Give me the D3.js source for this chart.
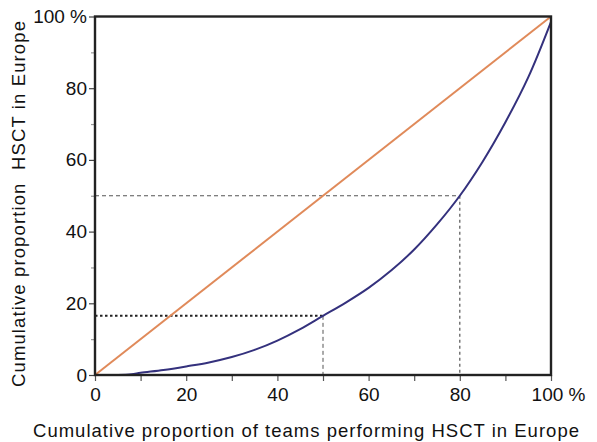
<!DOCTYPE html>
<html>
<head>
<meta charset="utf-8">
<script src="https://cdn.jsdelivr.net/npm/d3@7"></script>
<style>
  html, body { margin: 0; padding: 0; background: #fff; }
  text { font-family: "Liberation Sans", Arial, Helvetica, sans-serif; fill: #111; }
</style>
</head>
<body>
<svg id="chart" width="597" height="442"></svg>
<script>
// Cumulative share of teams (x, %) versus cumulative share of HSCT (y, %)
const teamShare = [0, 5, 8, 10, 15, 20, 25, 30, 35, 40, 45, 50, 55, 60, 65, 70, 75, 80, 85, 90, 95, 100];
const hsctShare = [0, 0, 0.2, 0.6, 1.4, 2.4, 3.5, 5.0, 7.0, 9.6, 12.8, 16.5, 20.2, 24.3, 29.2, 35.0, 42.0, 50.0, 59.5, 70.5, 83.0, 98.5];
// Line of equality
const equalityX = [0, 100];
const equalityY = [0, 100];
// Reference readings
const refLow = { x: 50, y: 16.5 };
const refMid = { x: 80, y: 50 };

const xTicks = [0, 20, 40, 60, 80, 100];
const yTicks = [0, 20, 40, 60, 80, 100];
const minorTicks = [0, 10, 20, 30, 40, 50, 60, 70, 80, 90, 100];
const tickLabel = v => v === 100 ? "100 %" : String(v);

const xTitle = "Cumulative proportion of teams performing HSCT in Europe";
const yTitle = "Cumulative proportion\u00a0\u00a0HSCT in Europe";

const svg = d3.select("#chart");
const plotL = 95, plotR = 551, plotT = 16.5, plotB = 375;

const x = d3.scaleLinear().domain([0, 100]).range([plotL, plotR]);
const y = d3.scaleLinear().domain([0, 100]).range([plotB, plotT]);

// Guide lines
const g = svg.append("g");
g.append("line")
  .attr("x1", x(0)).attr("x2", x(refMid.x))
  .attr("y1", y(refMid.y)).attr("y2", y(refMid.y))
  .attr("stroke", "#555").attr("stroke-width", 1).attr("stroke-dasharray", "4,3");
g.append("line")
  .attr("x1", x(refMid.x)).attr("x2", x(refMid.x))
  .attr("y1", y(refMid.y)).attr("y2", y(0))
  .attr("stroke", "#555").attr("stroke-width", 1.2).attr("stroke-dasharray", "3,3");
g.append("line")
  .attr("x1", x(0)).attr("x2", x(refLow.x))
  .attr("y1", y(refLow.y)).attr("y2", y(refLow.y))
  .attr("stroke", "#222").attr("stroke-width", 2).attr("stroke-dasharray", "2.5,2.5");
g.append("line")
  .attr("x1", x(refLow.x)).attr("x2", x(refLow.x))
  .attr("y1", y(refLow.y)).attr("y2", y(0))
  .attr("stroke", "#555").attr("stroke-width", 1).attr("stroke-dasharray", "4,3");

// Equality line
const eq = equalityX.map((v, i) => [v, equalityY[i]]);
svg.append("path")
  .datum(eq)
  .attr("d", d3.line().x(d => x(d[0])).y(d => y(d[1])))
  .attr("fill", "none").attr("stroke", "#e08a5a").attr("stroke-width", 2);

// Concentration curve
const curve = teamShare.map((v, i) => [v, hsctShare[i]]);
svg.append("path")
  .datum(curve)
  .attr("d", d3.line().curve(d3.curveCatmullRom.alpha(0.5)).x(d => x(d[0])).y(d => y(d[1])))
  .attr("fill", "none").attr("stroke", "#34317d").attr("stroke-width", 2);

// Axes
const yAxisMinor = svg.append("g")
  .attr("transform", `translate(${plotL},0)`)
  .call(d3.axisLeft(y).tickValues(minorTicks.filter(v => v % 20 !== 0)).tickSize(4).tickFormat(""));
yAxisMinor.select(".domain").remove();
yAxisMinor.selectAll("line").attr("stroke", "#999").attr("stroke-width", 1.2);

const yAxis = svg.append("g")
  .attr("transform", `translate(${plotL},0)`)
  .call(d3.axisLeft(y).tickValues(yTicks).tickSize(6).tickPadding(2).tickFormat(tickLabel));
yAxis.select(".domain").remove();
yAxis.selectAll("line").attr("stroke", "#444").attr("stroke-width", 1.2);
yAxis.selectAll("text").attr("font-size", 19).attr("fill", "#111")
  .style("font-family", "'Liberation Sans', Arial, sans-serif");

const xAxisMinor = svg.append("g")
  .attr("transform", `translate(0,${plotB})`)
  .call(d3.axisBottom(x).tickValues(minorTicks).tickSize(6).tickFormat(""));
xAxisMinor.select(".domain").remove();
xAxisMinor.selectAll("line").attr("stroke", "#555").attr("stroke-width", 1.2);

const xAxis = svg.append("g")
  .attr("transform", `translate(0,${plotB})`)
  .call(d3.axisBottom(x).tickValues(xTicks).tickSize(0).tickPadding(13).tickFormat(tickLabel));
xAxis.select(".domain").remove();
xAxis.selectAll("text").attr("font-size", 19).attr("fill", "#111")
  .style("font-family", "'Liberation Sans', Arial, sans-serif")
  .attr("dx", d => d === 100 ? 7 : 0);

// Frame
svg.append("rect")
  .attr("x", plotL).attr("y", plotT)
  .attr("width", plotR - plotL).attr("height", plotB - plotT)
  .attr("fill", "none").attr("stroke", "#222").attr("stroke-width", 2.4);

// Titles
svg.append("text")
  .attr("x", 306).attr("y", 437)
  .attr("text-anchor", "middle").attr("font-size", 18.5)
  .attr("textLength", 546).attr("lengthAdjust", "spacing")
  .text(xTitle);
svg.append("text")
  .attr("transform", `translate(25,${204}) rotate(-90)`)
  .attr("text-anchor", "middle").attr("font-size", 18.5)
  .attr("textLength", 366).attr("lengthAdjust", "spacing")
  .text(yTitle);
</script>
</body>
</html>
